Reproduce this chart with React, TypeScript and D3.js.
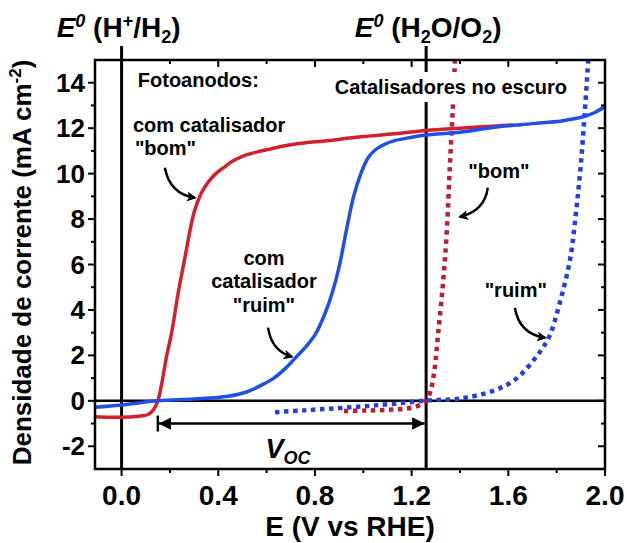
import * as d3 from "d3";

const WIDTH = 627;
const HEIGHT = 543;
const PLOT = { left: 95, right: 605, top: 60, bottom: 469 };
const FONT = "'Liberation Sans', Arial, sans-serif";

const RED = "#d2202c";
const BLUE = "#1f4fe3";
const RED_DOT = "#b81f36";
const BLUE_DOT = "#2242d6";

// photoanode with "bom" catalyst
const redSolidE = [-0.11, -0.05, 0.0, 0.05, 0.08, 0.11, 0.13, 0.15, 0.165, 0.185, 0.207, 0.235, 0.262, 0.3, 0.33, 0.36, 0.39, 0.427, 0.46, 0.51, 0.6, 0.72, 0.85, 0.99, 1.13, 1.26, 1.4, 1.55, 1.62];
const redSolidJ = [-0.7, -0.72, -0.72, -0.7, -0.67, -0.6, -0.42, 0.0, 0.7, 1.9, 3.0, 4.8, 6.3, 8.3, 9.15, 9.65, 10.0, 10.3, 10.55, 10.8, 11.05, 11.3, 11.45, 11.62, 11.75, 11.9, 12.0, 12.1, 12.14];

// photoanode with "ruim" catalyst
const blueSolidE = [-0.11, 0.0, 0.15, 0.3, 0.44, 0.52, 0.58, 0.63, 0.68, 0.72, 0.76, 0.8, 0.84, 0.87, 0.9, 0.93, 0.96, 0.99, 1.02, 1.05, 1.09, 1.13, 1.2, 1.26, 1.4, 1.55, 1.7, 1.82, 1.91, 1.96, 2.0];
const blueSolidJ = [-0.28, -0.18, 0.0, 0.08, 0.2, 0.4, 0.7, 1.0, 1.45, 1.9, 2.35, 2.9, 3.8, 4.7, 5.9, 7.5, 9.0, 10.0, 10.7, 11.05, 11.3, 11.45, 11.6, 11.7, 11.82, 12.05, 12.2, 12.32, 12.5, 12.7, 12.95];

// dark catalysts
const redDotE = [0.92, 1.0, 1.1, 1.2, 1.24, 1.265, 1.28, 1.295, 1.31, 1.33, 1.345, 1.358, 1.37, 1.38];
const redDotJ = [-0.45, -0.43, -0.4, -0.3, -0.15, 0.1, 0.5, 1.4, 3.0, 5.2, 7.4, 10.3, 12.8, 15.2];
const blueDotE = [0.635, 0.75, 0.9, 1.05, 1.2, 1.27, 1.4, 1.54, 1.63, 1.72, 1.77, 1.81, 1.855, 1.88, 1.9, 1.917, 1.932];
const blueDotJ = [-0.5, -0.42, -0.32, -0.2, -0.05, 0.02, 0.1, 0.45, 0.95, 2.0, 2.85, 4.2, 6.2, 8.3, 10.4, 12.8, 15.2];

const xTickValues = [0, 0.4, 0.8, 1.2, 1.6, 2.0];
const xTickLabels = ["0.0", "0.4", "0.8", "1.2", "1.6", "2.0"];
const xMinorValues = [0.2, 0.6, 1.0, 1.4, 1.8];
const yTickValues = [-2, 0, 2, 4, 6, 8, 10, 12, 14];
const yTickLabels = ["-2", "0", "2", "4", "6", "8", "10", "12", "14"];
const yMinorValues = [-1, 1, 3, 5, 7, 9, 11, 13];

const E_H2 = 0;
const E_O2 = 1.26;
const VOC_START = 0.15;

type Pt = [number, number];
// arrows: start, control, end (data units)
const arrows: [Pt, Pt, Pt][] = [
  [[0.179, 10.26], [0.2, 9.1], [0.303, 8.94]],
  [[0.606, 3.22], [0.62, 2.2], [0.704, 1.94]],
  [[1.515, 9.38], [1.503, 8.35], [1.4, 8.1]],
  [[1.627, 4.1], [1.645, 2.95], [1.752, 2.78]],
];

type Note = { text: string; e: number; j: number; anchor: "start" | "middle" };
const notes: Note[] = [
  { text: "Fotoanodos:", e: 0.067, j: 13.8, anchor: "start" },
  { text: "com catalisador", e: 0.047, j: 11.85, anchor: "start" },
  { text: "\"bom\"", e: 0.055, j: 10.84, anchor: "start" },
  { text: "com", e: 0.589, j: 5.99, anchor: "middle" },
  { text: "catalisador", e: 0.589, j: 4.98, anchor: "middle" },
  { text: "\"ruim\"", e: 0.589, j: 3.92, anchor: "middle" },
  { text: "\"bom\"", e: 1.561, j: 9.82, anchor: "middle" },
  { text: "\"ruim\"", e: 1.631, j: 4.58, anchor: "middle" },
];

export default function App() {
  const x = d3.scaleLinear().domain([-0.11, 2.0]).range([PLOT.left, PLOT.right]);
  const y = d3.scaleLinear().domain([-3, 15]).range([PLOT.bottom, PLOT.top]);

  const line = (es: number[], js: number[]) =>
    d3
      .line<number>()
      .x((e) => x(e))
      .y((_, i) => y(js[i]))
      .curve(d3.curveCatmullRom.alpha(0.5))(es) ?? "";

  const arrowPath = ([s, c, e]: [Pt, Pt, Pt]) => {
    const p = d3.path();
    p.moveTo(x(s[0]), y(s[1]));
    p.quadraticCurveTo(x(c[0]), y(c[1]), x(e[0]), y(e[1]));
    return p.toString();
  };

  const vocY = y(-1.0);
  const labelTop = 46;

  return (
    <svg
      width={WIDTH}
      height={HEIGHT}
      style={{ position: "absolute", left: 0, top: 0, background: "white" }}
      fontFamily={FONT}
      fontWeight="bold"
    >
      <defs>
        <clipPath id="plot">
          <rect x={PLOT.left} y={PLOT.top} width={PLOT.right - PLOT.left} height={PLOT.bottom - PLOT.top} />
        </clipPath>
        <marker id="ah" viewBox="0 0 10 10" refX="8" refY="5" markerWidth="4" markerHeight="4" orient="auto">
          <path d="M0,0 L10,5 L0,10 L2.5,5 z" fill="black" />
        </marker>
        <marker id="vah" viewBox="0 0 10 10" refX="10" refY="5" markerWidth="5" markerHeight="5" orient="auto-start-reverse">
          <path d="M0,0 L10,5 L0,10 z" fill="black" />
        </marker>
      </defs>

      {/* reference lines */}
      <line x1={PLOT.left} x2={PLOT.right} y1={y(0)} y2={y(0)} stroke="black" strokeWidth={2.5} />
      <line x1={x(E_H2)} x2={x(E_H2)} y1={labelTop} y2={PLOT.bottom} stroke="black" strokeWidth={3} />
      <line x1={x(E_O2)} x2={x(E_O2)} y1={labelTop} y2={PLOT.bottom} stroke="black" strokeWidth={3} />

      <g clipPath="url(#plot)" fill="none">
        <path d={line(redDotE, redDotJ)} stroke={RED_DOT} strokeWidth={4.5} strokeDasharray="4.5 4.5" />
        <path d={line(blueDotE, blueDotJ)} stroke={BLUE_DOT} strokeWidth={4.5} strokeDasharray="4.5 4.5" />
      </g>

      {/* label box hides lines behind it */}
      <rect x={x(0.872)} y={72} width={x(1.9) - x(0.872)} height={30} fill="white" />
      <text x={x(0.882)} y={y(13.5)} fontSize={20}>Catalisadores no escuro</text>

      <g clipPath="url(#plot)" fill="none">
        <path d={line(redSolidE, redSolidJ)} stroke={RED} strokeWidth={3.5} />
        <path d={line(blueSolidE, blueSolidJ)} stroke={BLUE} strokeWidth={3.5} />
      </g>

      {/* frame */}
      <rect
        x={PLOT.left}
        y={PLOT.top}
        width={PLOT.right - PLOT.left}
        height={PLOT.bottom - PLOT.top}
        fill="none"
        stroke="black"
        strokeWidth={2.5}
      />

      {/* ticks */}
      <g stroke="black" strokeWidth={2}>
        {xTickValues.map((v) => (
          <g key={`xt${v}`}>
            <line x1={x(v)} x2={x(v)} y1={PLOT.bottom} y2={PLOT.bottom + 7} />
            <line x1={x(v)} x2={x(v)} y1={PLOT.top} y2={PLOT.top + 7} />
          </g>
        ))}
        {xMinorValues.map((v) => (
          <g key={`xm${v}`}>
            <line x1={x(v)} x2={x(v)} y1={PLOT.bottom} y2={PLOT.bottom + 4} />
            <line x1={x(v)} x2={x(v)} y1={PLOT.top} y2={PLOT.top + 4} />
          </g>
        ))}
        {yTickValues.map((v) => (
          <g key={`yt${v}`}>
            <line x1={PLOT.left - 7} x2={PLOT.left} y1={y(v)} y2={y(v)} />
            <line x1={PLOT.right - 7} x2={PLOT.right} y1={y(v)} y2={y(v)} />
          </g>
        ))}
        {yMinorValues.map((v) => (
          <g key={`ym${v}`}>
            <line x1={PLOT.left - 4} x2={PLOT.left} y1={y(v)} y2={y(v)} />
            <line x1={PLOT.right - 4} x2={PLOT.right} y1={y(v)} y2={y(v)} />
          </g>
        ))}
      </g>

      {/* tick labels */}
      {xTickValues.map((v, i) => (
        <text key={`xl${v}`} x={x(v)} y={PLOT.bottom + 36} fontSize={28} textAnchor="middle">
          {xTickLabels[i]}
        </text>
      ))}
      {yTickValues.map((v, i) => (
        <text key={`yl${v}`} x={PLOT.left - 10} y={y(v) + 9} fontSize={26} textAnchor="end">
          {yTickLabels[i]}
        </text>
      ))}

      {/* axis titles */}
      <text x={(PLOT.left + PLOT.right) / 2} y={536} fontSize={28} textAnchor="middle">
        E (V vs RHE)
      </text>
      <text transform={`translate(31,${(PLOT.top + PLOT.bottom) / 2 - 2}) rotate(-90)`} fontSize={26} textAnchor="middle">
        Densidade de corrente (mA cm<tspan dy={-10} fontSize={17}>-2</tspan>
        <tspan dy={10}>)</tspan>
      </text>

      {/* potential labels */}
      <text x={x(E_H2) - 3} y={37} fontSize={28} textAnchor="middle">
        <tspan fontStyle="italic">E</tspan>
        <tspan dy={-10} fontSize={18} fontStyle="italic">0</tspan>
        <tspan dy={10}> (H</tspan>
        <tspan dy={-10} fontSize={18}>+</tspan>
        <tspan dy={10}>/H</tspan>
        <tspan dy={6} fontSize={18}>2</tspan>
        <tspan dy={-6}>)</tspan>
      </text>
      <text x={x(E_O2) + 2} y={37} fontSize={28} textAnchor="middle">
        <tspan fontStyle="italic">E</tspan>
        <tspan dy={-10} fontSize={18} fontStyle="italic">0</tspan>
        <tspan dy={10}> (H</tspan>
        <tspan dy={6} fontSize={18}>2</tspan>
        <tspan dy={-6}>O/O</tspan>
        <tspan dy={6} fontSize={18}>2</tspan>
        <tspan dy={-6}>)</tspan>
      </text>

      {/* annotations */}
      {notes.map((n, i) => (
        <text key={`n${i}`} x={x(n.e)} y={y(n.j)} fontSize={20} textAnchor={n.anchor}>
          {n.text}
        </text>
      ))}
      {arrows.map((a, i) => (
        <path key={`a${i}`} d={arrowPath(a)} fill="none" stroke="black" strokeWidth={2.5} markerEnd="url(#ah)" />
      ))}

      {/* Voc */}
      <line x1={x(VOC_START)} x2={x(VOC_START)} y1={vocY - 8} y2={vocY + 8} stroke="black" strokeWidth={2.5} />
      <line
        x1={x(VOC_START) + 1}
        x2={x(E_O2) - 1.5}
        y1={vocY}
        y2={vocY}
        stroke="black"
        strokeWidth={2.5}
        markerStart="url(#vah)"
        markerEnd="url(#vah)"
      />
      <text x={x(0.595)} y={y(-2.5)} fontSize={27} fontStyle="italic">
        V<tspan dy={6} fontSize={18}>OC</tspan>
      </text>
    </svg>
  );
}
